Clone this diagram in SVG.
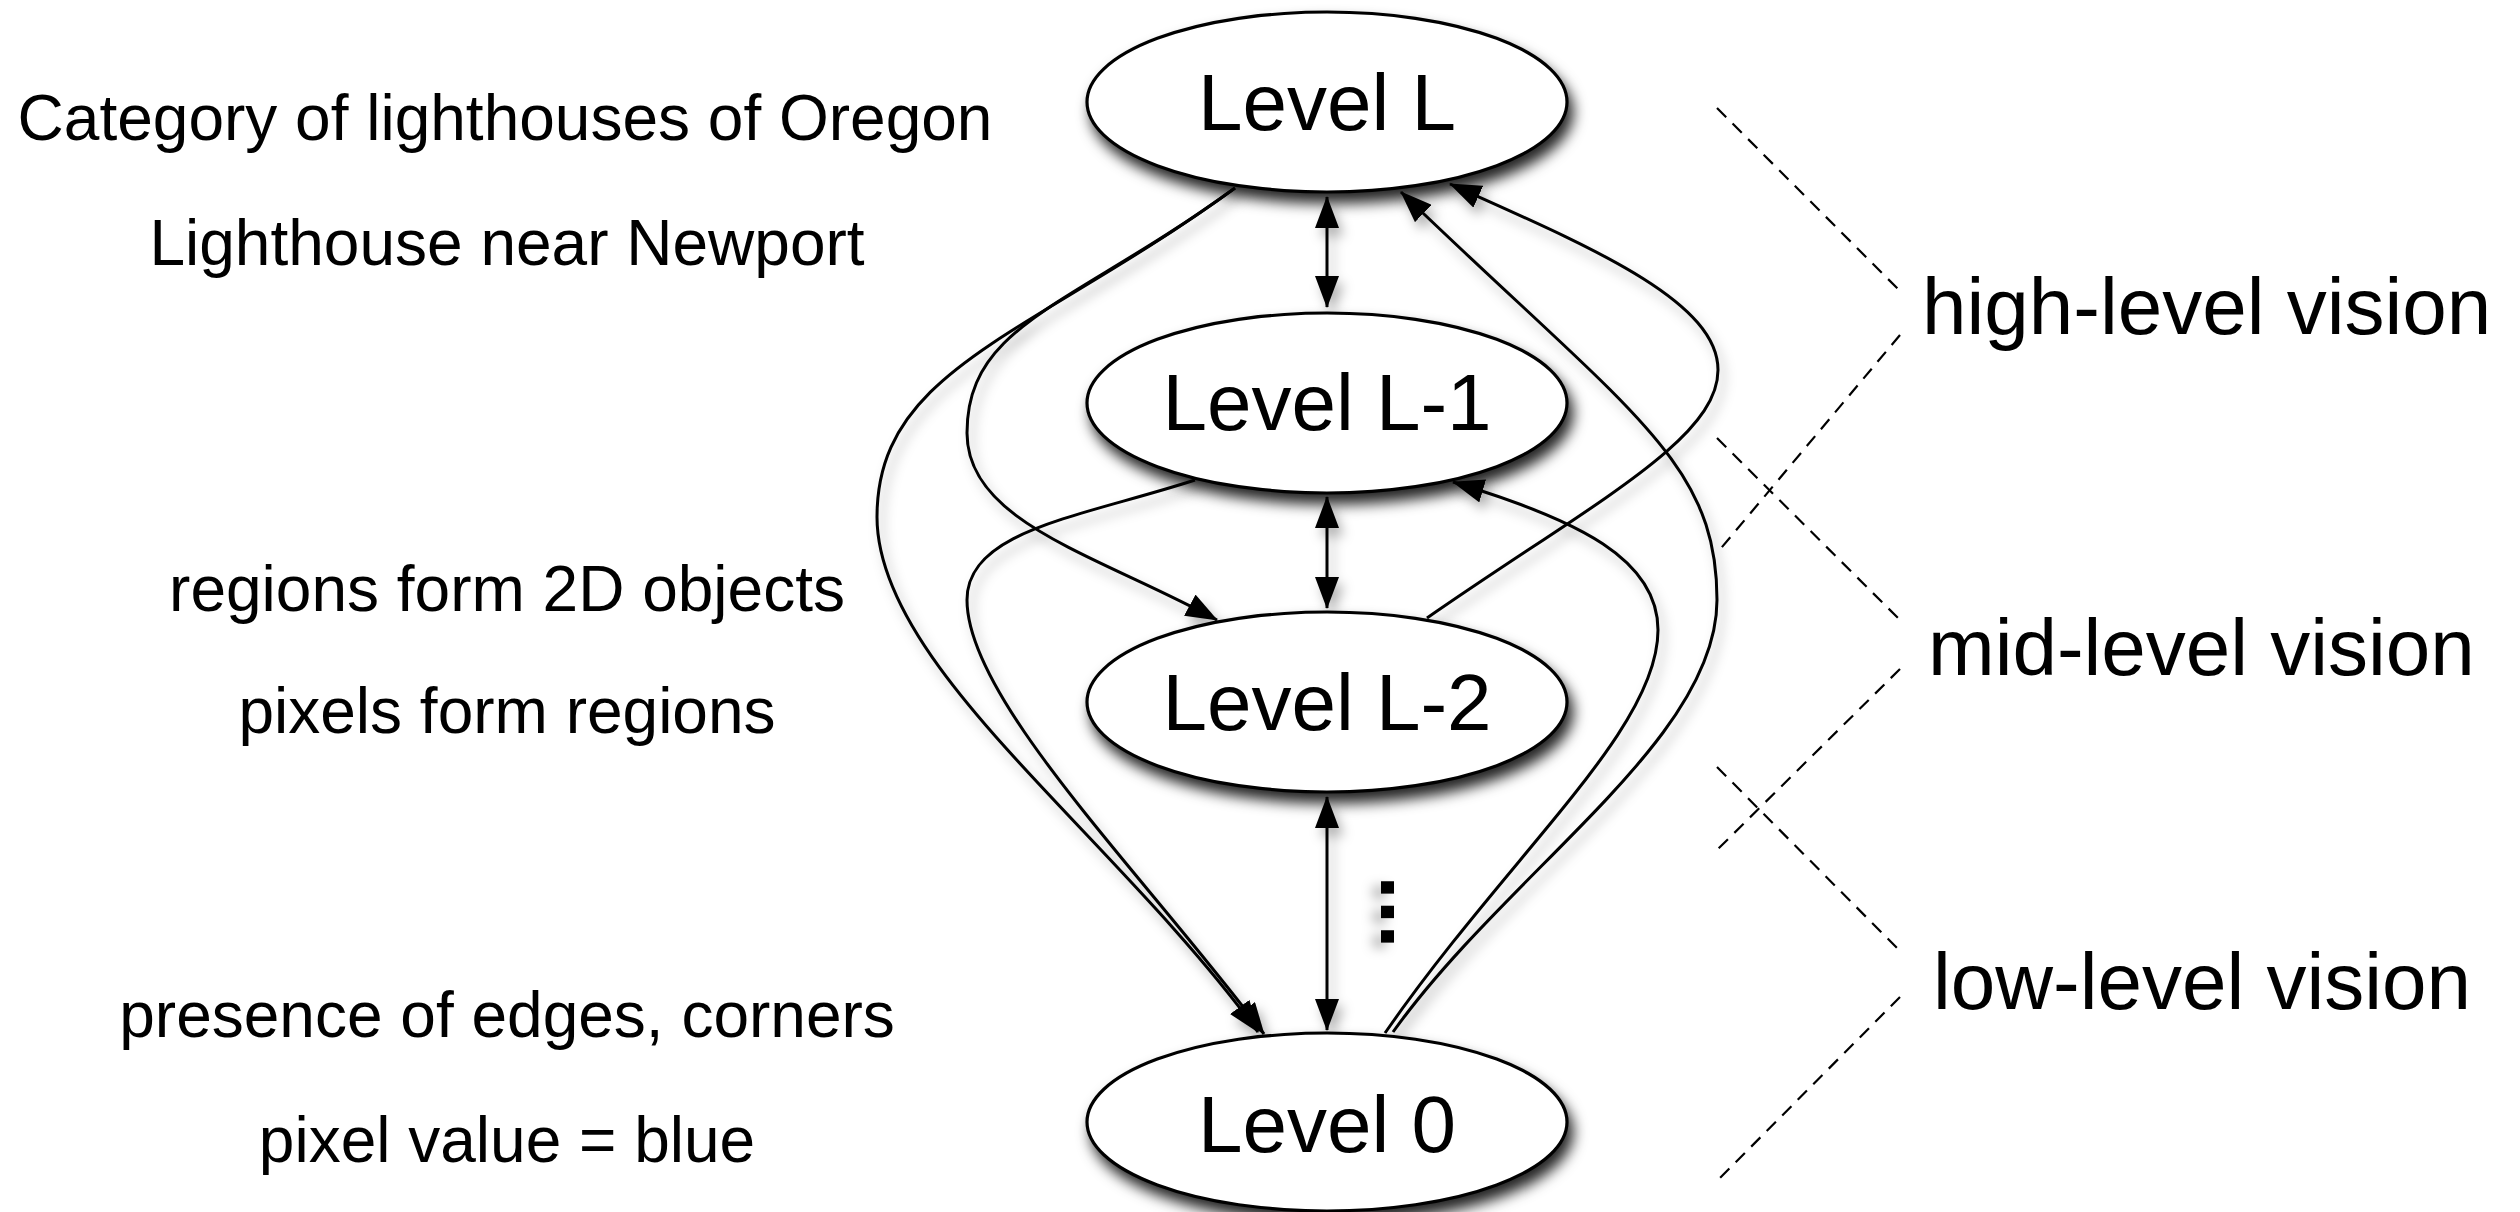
<svg xmlns="http://www.w3.org/2000/svg" width="2520" height="1212" viewBox="0 0 2520 1212">
  <style>
    .lbl { font-family: "Liberation Sans", Arial, Helvetica, sans-serif; fill: #000; }
    .side { font-size: 64px; text-anchor: middle; }
    .band { font-size: 80px; }
    .ntext { font-size: 80px; text-anchor: middle; }
    .node { fill: #fff; stroke: #000; stroke-width: 3.2; filter: url(#nodeShadow); }
    .edge { fill: none; stroke: #000; stroke-width: 3; }
    .arr { marker-end: url(#ah); }
    .both { marker-start: url(#ah); marker-end: url(#ah); }
    .bracket { fill: none; stroke: #000; stroke-width: 2.2; stroke-dasharray: 13 9; }
  </style>
  <defs>
    <filter id="nodeShadow" x="-20%" y="-30%" width="150%" height="180%">
      <feDropShadow dx="5" dy="10" stdDeviation="7" flood-color="#000" flood-opacity="0.85"/>
    </filter>
    <filter id="edgeShadow" x="-20%" y="-20%" width="140%" height="140%">
      <feDropShadow dx="5" dy="8" stdDeviation="6" flood-color="#000" flood-opacity="0.3"/>
    </filter>
    <marker id="ah" viewBox="0 0 32 24" refX="31" refY="12" markerWidth="32" markerHeight="24" markerUnits="userSpaceOnUse" orient="auto-start-reverse">
      <path d="M0,0 L32,12 L0,24 z" fill="#000"/>
    </marker>
  </defs>

  <rect width="2520" height="1212" fill="#fff"/>

  <!-- descriptions of each level, left column -->
  <g id="captions" class="lbl side">
    <text x="505" y="140">Category of lighthouses of Oregon</text>
    <text x="507" y="265">Lighthouse near Newport</text>
    <text x="507" y="611">regions form 2D objects</text>
    <text x="507" y="733">pixels form regions</text>
    <text x="507" y="1037">presence of edges, corners</text>
    <text x="507" y="1162">pixel value = blue</text>
  </g>

  <!-- dashed brackets grouping the levels -->
  <g id="brackets" class="bracket">
    <path d="M1717,108 L1900,291"/>
    <path d="M1900,335 L1717,553"/>
    <path d="M1717,438 L1900,620"/>
    <path d="M1900,669 L1717,850"/>
    <path d="M1717,767 L1900,951"/>
    <path d="M1900,997 L1717,1181"/>
  </g>

  <g id="bands" class="lbl band">
    <text x="1922" y="334">high-level vision</text>
    <text x="1928" y="675">mid-level vision</text>
    <text x="1933" y="1009">low-level vision</text>
  </g>

  <!-- connectors between levels -->
  <g id="connectors" filter="url(#edgeShadow)">
    <path class="edge both" d="M1327,197 L1327,307"/>
    <path class="edge both" d="M1327,497 L1327,608"/>
    <path class="edge both" d="M1327,797 L1327,1030"/>

    <!-- top-down: L to L-2 -->
    <path class="edge arr" d="M1235,188 C1073,306 967,323 967,433 C967,523 1100,556 1217,620"/>
    <!-- top-down: L to 0 -->
    <path class="edge arr" d="M1235,188 C1032,336 877,367 877,517 C877,667 1113,833 1258,1032"/>
    <!-- top-down: L-1 to 0 -->
    <path class="edge arr" d="M1195,480 C1081,517 967,530 967,600 C967,700 1143,873 1264,1034"/>

    <!-- bottom-up: 0 to L -->
    <path class="edge arr" d="M1393,1032 C1509,870 1717,740 1717,600 C1717,460 1630,413 1401,192"/>
    <!-- bottom-up: 0 to L-1 -->
    <path class="edge arr" d="M1385,1033 C1510,853 1658,730 1658,630 C1658,560 1580,520 1453,482"/>
    <!-- bottom-up: L-2 to L -->
    <path class="edge arr" d="M1427,618 C1591,504 1718,440 1718,370 C1718,300 1586,245 1450,184"/>
  </g>

  <!-- levels of the hierarchy -->
  <g id="level-L">
    <ellipse class="node" cx="1327" cy="102" rx="240" ry="90"/>
    <text class="lbl ntext" x="1327" y="130">Level L</text>
  </g>
  <g id="level-L-1">
    <ellipse class="node" cx="1327" cy="403" rx="240" ry="90"/>
    <text class="lbl ntext" x="1327" y="430">Level L-1</text>
  </g>
  <g id="level-L-2">
    <ellipse class="node" cx="1327" cy="702" rx="240" ry="90"/>
    <text class="lbl ntext" x="1327" y="730">Level L-2</text>
  </g>
  <g id="level-0">
    <ellipse class="node" cx="1327" cy="1122" rx="240" ry="89"/>
    <text class="lbl ntext" x="1327" y="1152">Level 0</text>
  </g>

  <!-- vertical ellipsis between L-2 and 0 -->
  <text id="more-levels" class="lbl" font-size="88" font-weight="bold" text-anchor="middle" filter="url(#edgeShadow)" transform="translate(1381,912) rotate(90)">...</text>
</svg>
